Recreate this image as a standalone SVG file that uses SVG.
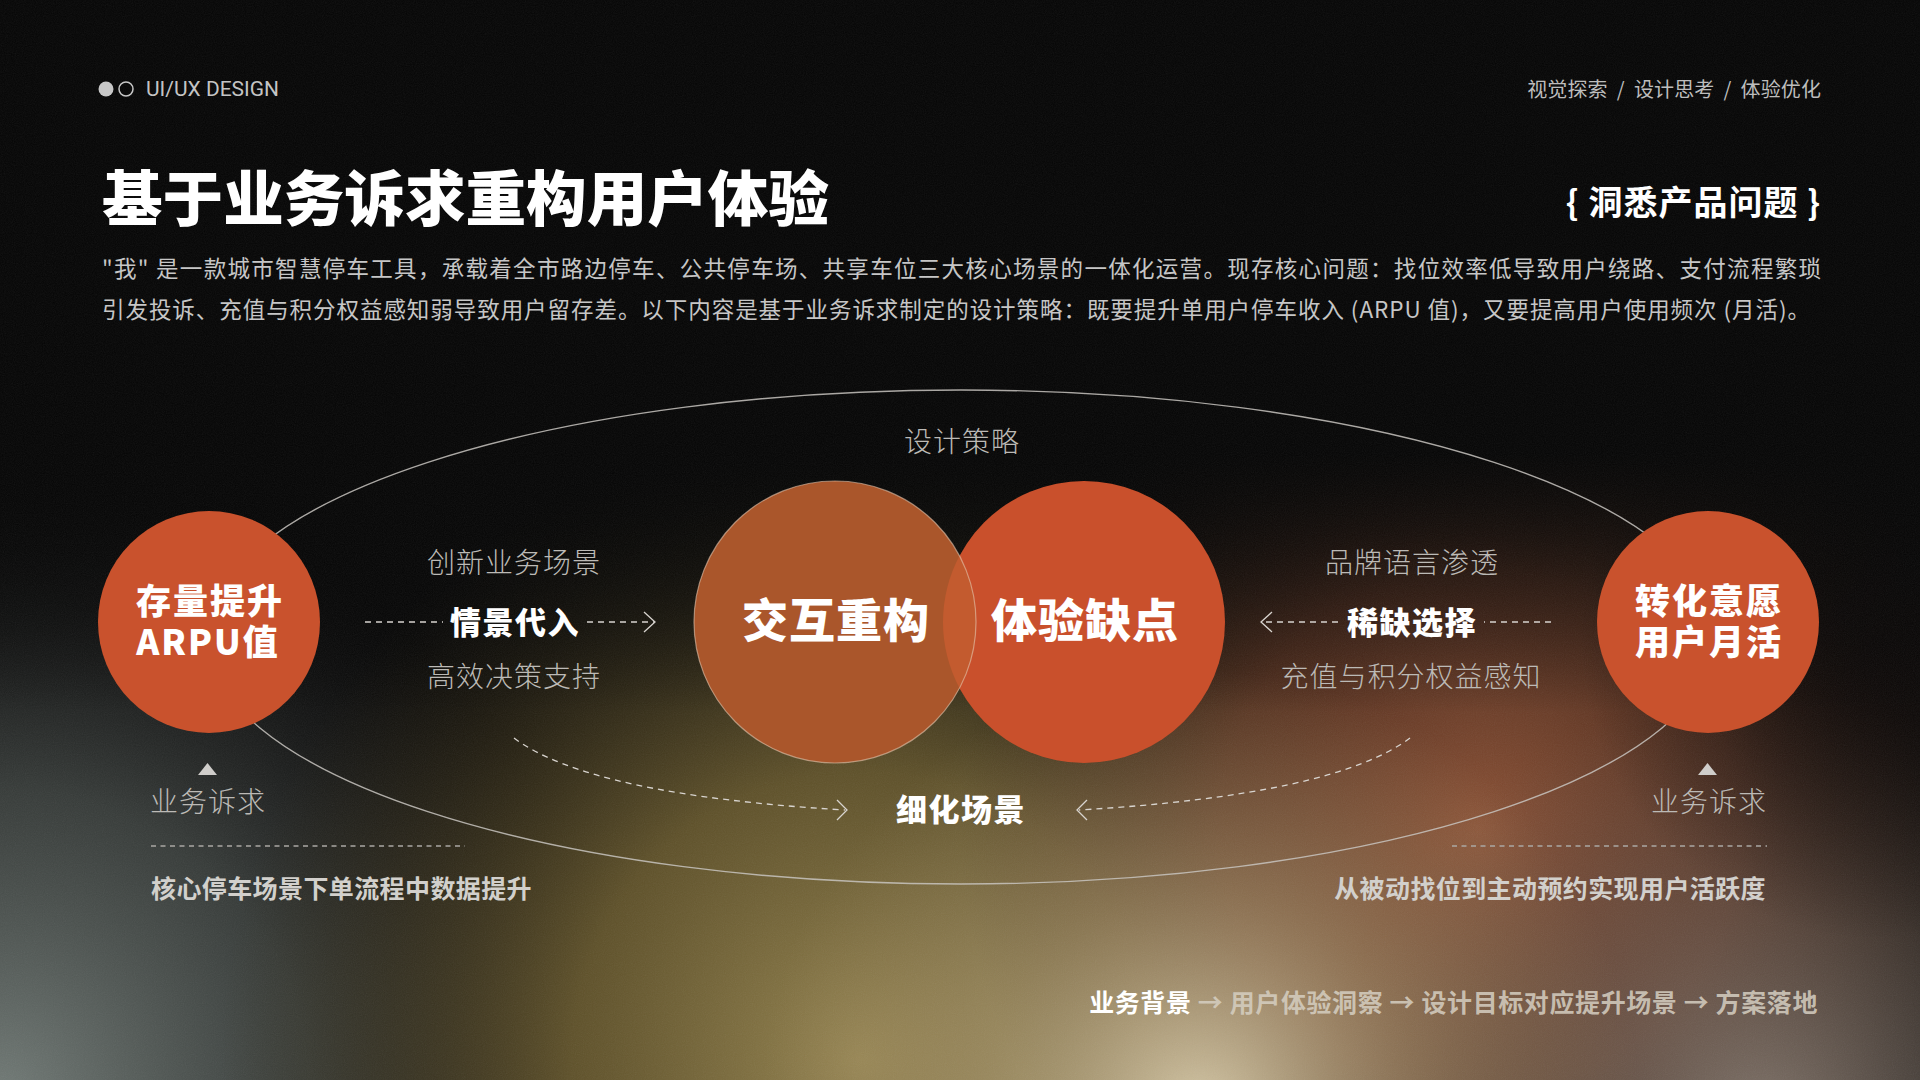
<svg xmlns="http://www.w3.org/2000/svg" width="1920" height="1080" viewBox="0 0 1920 1080">
<style>
.cjk{font-family:'Noto Sans CJK SC','Noto Sans',sans-serif}
.hdr{font-size:20px;fill:#bdbdbd}
.para{font-size:22.5px;fill:#c6c6c6}
.label{font-size:28px;fill:#bcbab6;font-weight:300;text-anchor:middle}
.key{font-size:31px;fill:#ffffff;font-weight:900;text-anchor:middle;letter-spacing:1.5px}
.node-txt{fill:#ffffff;font-weight:900;text-anchor:middle}
.side{fill:#c9522d}
.dash{fill:none;stroke:#d8d4cf;stroke-width:1.3;stroke-dasharray:6 5}
.chev{fill:none;stroke:#d8d4cf;stroke-width:1.3}
.sep{fill:none;stroke:#aaa8a4;stroke-width:1.3;stroke-dasharray:5 4.5}
.sub{font-size:25px;font-weight:700;fill:#d2d0cc}
</style>
<defs>
<radialGradient id="gOlive" cx="860" cy="1060" r="640" gradientUnits="userSpaceOnUse">
<stop offset="0" stop-color="#958450"/>
<stop offset="0.45" stop-color="#6e5e30" stop-opacity="0.85"/>
<stop offset="1" stop-color="#3a3018" stop-opacity="0"/>
</radialGradient>
<radialGradient id="gBeige" cx="1200" cy="1110" r="440" gradientUnits="userSpaceOnUse">
<stop offset="0" stop-color="#dccfae" stop-opacity="0.95"/>
<stop offset="0.5" stop-color="#b4a27a" stop-opacity="0.5"/>
<stop offset="1" stop-color="#9a8660" stop-opacity="0"/>
</radialGradient>
<radialGradient id="gBrown" cx="1480" cy="830" r="520" gradientUnits="userSpaceOnUse">
<stop offset="0" stop-color="#8c5236"/>
<stop offset="0.5" stop-color="#6e3c26" stop-opacity="0.7"/>
<stop offset="1" stop-color="#3a2010" stop-opacity="0"/>
</radialGradient>
<radialGradient id="gGreyR" cx="1760" cy="1120" r="430" gradientUnits="userSpaceOnUse">
<stop offset="0" stop-color="#8a7e74" stop-opacity="0.9"/>
<stop offset="1" stop-color="#6a5a50" stop-opacity="0"/>
</radialGradient>
<radialGradient id="gTeal" cx="0" cy="1100" r="620" gradientUnits="userSpaceOnUse">
<stop offset="0" stop-color="#737c78"/>
<stop offset="0.5" stop-color="#474d4a" stop-opacity="0.75"/>
<stop offset="1" stop-color="#202020" stop-opacity="0"/>
</radialGradient>
<radialGradient id="gDarkR" cx="1880" cy="640" r="300" gradientUnits="userSpaceOnUse">
<stop offset="0" stop-color="#0a0707" stop-opacity="0.85"/>
<stop offset="1" stop-color="#0a0707" stop-opacity="0"/>
</radialGradient>
<linearGradient id="gTop" x1="0" y1="0" x2="0" y2="1080" gradientUnits="userSpaceOnUse">
<stop offset="0" stop-color="#050505" stop-opacity="1"/>
<stop offset="0.42" stop-color="#050505" stop-opacity="1"/>
<stop offset="0.66" stop-color="#050505" stop-opacity="0"/>
</linearGradient>
<filter id="grain" x="0" y="0" width="100%" height="100%">
<feTurbulence type="fractalNoise" baseFrequency="0.9" numOctaves="2" seed="3" result="n"/>
<feColorMatrix type="saturate" values="0"/>
<feComponentTransfer><feFuncA type="table" tableValues="0 0.08"/></feComponentTransfer>
</filter>
</defs>

<g id="background">
<rect width="1920" height="1080" fill="#070707"/>
<rect width="1920" height="1080" fill="url(#gTeal)"/>
<rect width="1920" height="1080" fill="url(#gOlive)"/>
<rect width="1920" height="1080" fill="url(#gBrown)"/>
<rect width="1920" height="1080" fill="url(#gGreyR)"/>
<rect width="1920" height="1080" fill="url(#gBeige)"/>
<rect width="1920" height="1080" fill="url(#gDarkR)"/>
<rect width="1920" height="1080" fill="url(#gTop)"/>
<rect width="1920" height="1080" filter="url(#grain)"/>
</g>

<g id="header">
<circle cx="106" cy="89" r="7.5" fill="#c8c8c8"/>
<circle cx="126" cy="89" r="7" fill="none" stroke="#c8c8c8" stroke-width="1.5"/>
<text x="146" y="96" font-family="Roboto,'Liberation Sans',sans-serif" font-size="20" fill="#c4c4c4" textLength="133" lengthAdjust="spacingAndGlyphs">UI/UX DESIGN</text>
<text class="cjk hdr" x="1821" y="97" text-anchor="end" letter-spacing="0.1" xml:space="preserve">视觉探索  /  设计思考  /  体验优化</text>
<text class="cjk" x="102" y="221" font-size="60" font-weight="900" fill="#ffffff" textLength="727" lengthAdjust="spacingAndGlyphs">基于业务诉求重构用户体验</text>
<text class="cjk" x="1821" y="215" font-size="34" font-weight="700" fill="#ffffff" text-anchor="end" letter-spacing="1" xml:space="preserve">{ 洞悉产品问题 }</text>
<text class="cjk para" x="102" y="277" textLength="1719" lengthAdjust="spacing">"我"  是一款城市智慧停车工具，承载着全市路边停车、公共停车场、共享车位三大核心场景的一体化运营。现存核心问题：找位效率低导致用户绕路、支付流程繁琐</text>
<text class="cjk para" x="102" y="318" textLength="1708" lengthAdjust="spacing">引发投诉、充值与积分权益感知弱导致用户留存差。以下内容是基于业务诉求制定的设计策略：既要提升单用户停车收入 (ARPU 值)，又要提高用户使用频次 (月活)。</text>
</g>

<g id="connectors">
<ellipse cx="961" cy="637" rx="754" ry="247" fill="none" stroke="#c8c4bf" stroke-width="1.4" opacity="0.85"/>
<path class="dash" d="M365,622 H443 M587,622 H655"/>
<path class="chev" d="M644,612 L655,622 L644,632"/>
<path class="dash" d="M1551,622 H1484 M1338,622 H1262"/>
<path class="chev" d="M1272,612 L1261,622 L1272,632"/>
<path class="dash" d="M514,738 Q590,795 845,810"/>
<path class="chev" d="M837,800 L847,810 L837,820"/>
<path class="dash" d="M1410,738 Q1334,795 1079,810"/>
<path class="chev" d="M1087,800 L1077,810 L1087,820"/>
<path d="M198,775 L217,775 L207.5,763 Z" fill="#cfcdca"/>
<path d="M1698,775 L1717,775 L1707.5,763 Z" fill="#cfcdca"/>
<path class="sep" d="M151,846 H465"/>
<path class="sep" d="M1452,846 H1767"/>
</g>

<g id="node-left">
<circle class="side" cx="209" cy="622" r="111"/>
<text class="cjk node-txt" font-size="35" letter-spacing="2"><tspan x="210" y="614">存量提升</tspan><tspan x="208" y="655">ARPU值</tspan></text>
</g>

<g id="node-right">
<circle class="side" cx="1708" cy="622" r="111"/>
<text class="cjk node-txt" font-size="35" letter-spacing="2"><tspan x="1709" y="614">转化意愿</tspan><tspan x="1709" y="655">用户月活</tspan></text>
</g>

<g id="node-experience">
<circle cx="1084" cy="622" r="141" fill="#c9502c"/>
</g>

<g id="node-interaction">
<circle cx="835" cy="622" r="141" fill="#aa562b"/>
<path d="M959.5,555.8 A141,141 0 0 1 959.5,688.2 A141,141 0 0 1 959.5,555.8 Z" fill="#c35b2f"/>
<circle cx="835" cy="622" r="141" fill="none" stroke="#e8c8b0" stroke-width="1.2" opacity="0.6"/>
<text class="cjk node-txt" x="836" y="637" font-size="46" letter-spacing="1">交互重构</text>
</g>

<g id="node-experience-label">
<text class="cjk node-txt" x="1085" y="637" font-size="46" letter-spacing="1">体验缺点</text>
</g>

<g id="labels">
<text class="cjk label" x="962" y="452" letter-spacing="1">设计策略</text>
<text class="cjk label" x="514" y="573" letter-spacing="1">创新业务场景</text>
<text class="cjk key" x="515" y="634">情景代入</text>
<text class="cjk label" x="514" y="687" letter-spacing="1">高效决策支持</text>
<text class="cjk label" x="1412" y="573" letter-spacing="1">品牌语言渗透</text>
<text class="cjk key" x="1412" y="634">稀缺选择</text>
<text class="cjk label" x="1411" y="687" letter-spacing="1">充值与积分权益感知</text>
<text class="cjk key" x="961" y="821">细化场景</text>
<text class="cjk label" x="150" y="812" style="text-anchor:start" letter-spacing="1">业务诉求</text>
<text class="cjk label" x="1767" y="812" style="text-anchor:end" letter-spacing="1">业务诉求</text>
<text class="cjk sub" x="151" y="898" letter-spacing="0.4">核心停车场景下单流程中数据提升</text>
<text class="cjk sub" x="1766" y="898" text-anchor="end" letter-spacing="0.4">从被动找位到主动预约实现用户活跃度</text>
</g>

<g id="flow">
<text class="cjk" x="1818" y="1012" font-size="25" font-weight="700" text-anchor="end" fill="#d6cfc2" fill-opacity="0.85" letter-spacing="0.6" xml:space="preserve"><tspan fill="#ffffff" fill-opacity="1">业务背景</tspan> → 用户体验洞察 → 设计目标对应提升场景 → 方案落地</text>
</g>
</svg>
